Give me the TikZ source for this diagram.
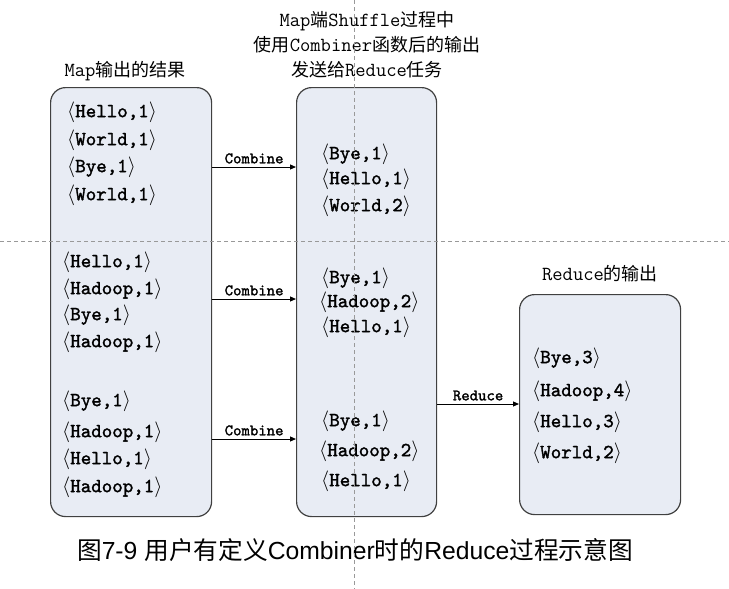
\documentclass[tikz,border=0pt]{standalone}
\usepackage{fontspec}
\setmainfont{Liberation Serif}
\newfontfamily\cjkfont{Noto Sans CJK SC}
\newfontfamily\capfont{Liberation Sans}
\newfontfamily\pairfont{lmmono10-regular.otf}[FakeBold=1.6]
\usetikzlibrary{arrows.meta}
\definecolor{boxfill}{HTML}{E8ECF4}
\definecolor{boxline}{HTML}{404040}
\newcommand{\kv}[1]{$\langle$#1$\rangle$}
\newcommand{\zh}[1]{{\cjkfont #1}}
\newcommand{\zht}[1]{{\fontsize{18}{25}\selectfont\cjkfont #1}}
\tikzset{
  stagebox/.style={draw=boxline, fill=boxfill, line width=1.2pt, rounded corners=15pt, anchor=north west},
  pair/.style={anchor=west, inner sep=0pt, font=\fontsize{20}{22}\selectfont\pairfont},
  heading/.style={align=center, font=\fontsize{20}{25}\selectfont\ttfamily},
  oplabel/.style={above, inner sep=3pt, font=\fontsize{16}{18}\selectfont\pairfont},
  flow/.style={-{Triangle[length=6pt,width=5pt]}, line width=1pt},
  guide/.style={draw=black!40, dash pattern=on 4pt off 3pt, line width=0.7pt}
}

\begin{document}
\begin{tikzpicture}[x=1pt, y=-1pt]
				\useasboundingbox (0,0) rectangle (729,589);
				
				\node[heading] (maptitle) at (125,71) {Map\zht{输出的结果}};
				\node[heading] (midtitle) at (367,45) {Map\zht{端}Shuffle\zht{过程中}\\\zht{使用}Combiner\zht{函数后的输出}\\\zht{发送给}Reduce\zht{任务}};
				\node[heading] (redtitle) at (600,274) {Reduce\zht{的输出}};
				
				\node[stagebox, minimum width=161pt, minimum height=429pt] (mapbox) at (50,87) {};
				\node[stagebox, minimum width=140pt, minimum height=429pt] (midbox) at (296,87) {};
				\node[stagebox, minimum width=161pt, minimum height=220pt] (redbox) at (519,294) {};
				
				\node[pair] (map1) at (67,112) {\kv{Hello,1}};
				\node[pair] (map2) at (67,140) {\kv{World,1}};
				\node[pair] (map3) at (67,167) {\kv{Bye,1}};
				\node[pair] (map4) at (67,195) {\kv{World,1}};
				\node[pair] (map5) at (62,262) {\kv{Hello,1}};
				\node[pair] (map6) at (62,289) {\kv{Hadoop,1}};
				\node[pair] (map7) at (62,315) {\kv{Bye,1}};
				\node[pair] (map8) at (62,342) {\kv{Hadoop,1}};
				\node[pair] (map9) at (62,401) {\kv{Bye,1}};
				\node[pair] (map10) at (62,432) {\kv{Hadoop,1}};
				\node[pair] (map11) at (62,459) {\kv{Hello,1}};
				\node[pair] (map12) at (62,487) {\kv{Hadoop,1}};
				
				\node[pair] (mid1) at (321,154) {\kv{Bye,1}};
				\node[pair] (mid2) at (321,179) {\kv{Hello,1}};
				\node[pair] (mid3) at (321,206) {\kv{World,2}};
				\node[pair] (mid4) at (321,278) {\kv{Bye,1}};
				\node[pair] (mid5) at (319,302) {\kv{Hadoop,2}};
				\node[pair] (mid6) at (321,327) {\kv{Hello,1}};
				\node[pair] (mid7) at (321,421) {\kv{Bye,1}};
				\node[pair] (mid8) at (319,451) {\kv{Hadoop,2}};
				\node[pair] (mid9) at (321,481) {\kv{Hello,1}};
				
				\node[pair] (red1) at (532,358) {\kv{Bye,3}};
				\node[pair] (red2) at (532,391) {\kv{Hadoop,4}};
				\node[pair] (red3) at (532,422) {\kv{Hello,3}};
				\node[pair] (red4) at (532,453) {\kv{World,2}};
				
				\coordinate (lane1) at (0,167);
				\coordinate (lane2) at (0,299);
				\coordinate (lane3) at (0,439);
				\coordinate (lane4) at (0,404);
				\draw[flow] (mapbox.east |- lane1) -- (midbox.west |- lane1) node[oplabel, midway] (comb1) {Combine};
				\draw[flow] (mapbox.east |- lane2) -- (midbox.west |- lane2) node[oplabel, midway] (comb2) {Combine};
				\draw[flow] (mapbox.east |- lane3) -- (midbox.west |- lane3) node[oplabel, midway] (comb3) {Combine};
				\draw[flow] (midbox.east |- lane4) -- (redbox.west |- lane4) node[oplabel, midway] (reduce) {Reduce};
				
				\node[font=\fontsize{24.7}{28}\selectfont\capfont] (caption) at (355,550) {\zh{图}7-9 \zh{用户有定义}Combiner\zh{时的}Reduce\zh{过程示意图}};
				
				\draw[guide] (0,241) -- (729,241);
				\draw[guide] (354,0) -- (354,589);
			\end{tikzpicture}
\end{document}
